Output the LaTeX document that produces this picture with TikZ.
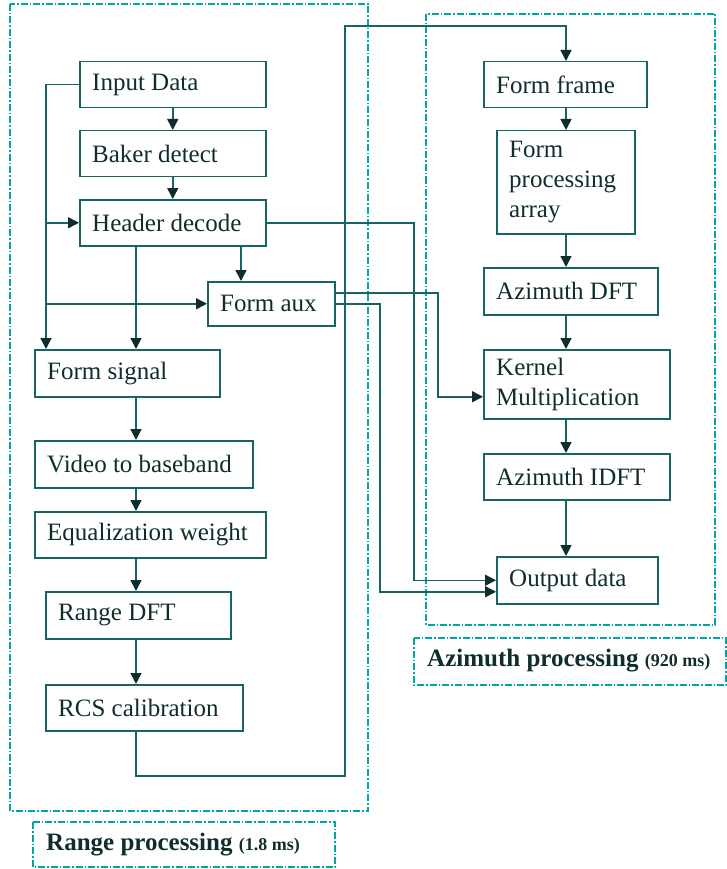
\documentclass[tikz,border=0pt]{standalone}
\usepackage{fontspec}
\setmainfont{Liberation Serif}
\usetikzlibrary{arrows.meta}
\definecolor{ln}{RGB}{22,100,100}
\definecolor{tx}{RGB}{15,45,45}
\definecolor{fr}{RGB}{0,165,165}
\tikzset{
  boxst/.style={draw=ln,line width=1.5pt,anchor=north west,inner sep=0pt},
  txt/.style={text=tx,font=\fontsize{25}{30}\selectfont,align=left,inner sep=0pt,anchor=west},
  conn/.style={draw=ln,line width=1.5pt},
  arr/.style={conn,-{Triangle[length=11pt,width=11pt,fill=tx,color=tx]}},
  frame/.style={draw=fr,line width=1.1pt,dash pattern=on 7pt off 2pt on 1.5pt off 2pt}
}
\newcommand\mybox[6]{%
  \node[boxst,minimum width=#4pt,minimum height=#5pt] (#1) at (#2,#3) {};
  \node[txt] (#1t) at ([xshift=13pt]#1.west) {#6};}
\begin{document}
\begin{tikzpicture}[x=1pt,y=-1pt]
\useasboundingbox (0,0) rectangle (727,869);
% frames
\draw[frame] (10,4) rectangle (368,811);
\draw[frame] (33,822) rectangle (335,867);
\draw[frame] (426,14) rectangle (715,625);
\draw[frame] (414,638) rectangle (726,685);
\node[txt,font=\bfseries\fontsize{25}{30}\selectfont] (rlab) at (46,845) {Range processing {\fontsize{18}{20}\selectfont (1.8 ms)}};
\node[txt,font=\bfseries\fontsize{25}{30}\selectfont] (alab) at (427,661) {Azimuth processing {\fontsize{18}{20}\selectfont (920 ms)}};
% range boxes
\mybox{in}{79}{61}{186}{46}{Input Data}
\mybox{bd}{79}{130}{186}{46}{Baker detect}
\mybox{hd}{79}{199}{186}{46}{Header decode}
\mybox{fa}{207}{281}{127}{44}{Form aux}
\mybox{fs}{34}{349}{185}{47}{Form signal}
\mybox{vb}{34}{440}{218}{47}{Video to baseband}
\mybox{eq}{34}{511}{231}{46}{Equalization weight}
\mybox{rd}{45}{591}{185}{47}{Range DFT}
\mybox{rc}{45}{684}{197}{46}{RCS calibration}
% azimuth boxes
\mybox{ff}{483}{61}{163}{46}{Form frame}
\mybox{fpa}{496}{130}{138}{103}{Form\\processing\\array}
\mybox{ad}{483}{267}{174}{47}{Azimuth DFT}
\mybox{km}{483}{349}{186}{69}{Kernel\\Multiplication}
\mybox{aid}{483}{453}{186}{46}{Azimuth IDFT}
\mybox{od}{496}{556}{161}{47}{Output data}
% coordinates
\coordinate (xL) at (46,0);
\coordinate (xM) at (136,0);
\coordinate (xF) at (241,0);
\coordinate (xH) at (414,0);
\coordinate (xK) at (438,0);
\coordinate (xO) at (380,0);
\coordinate (xA) at (566,0);
\coordinate (bot) at (345,776);
\coordinate (top) at (345,26);
% range connectors
\draw[arr] (in.south) -- (bd.north);
\draw[arr] (bd.south) -- (hd.north);
\draw[arr] (in.west) -| (fs.north -| xL);
\draw[arr] (hd.west -| xL) -- (hd.west);
\draw[arr] (fa.west -| xL) -- (fa.west);
\draw[arr] (hd.south -| xM) -- (fs.north -| xM);
\draw[arr] (hd.south -| xF) -- (fa.north -| xF);
\draw[arr] (fs.south -| xM) -- (vb.north -| xM);
\draw[arr] (vb.south -| xM) -- (eq.north -| xM);
\draw[arr] (eq.south -| xM) -- (rd.north -| xM);
\draw[arr] (rd.south -| xM) -- (rc.north -| xM);
\draw[arr] (rc.south -| xM) |- (bot) -- (top) -| (ff.north -| xA);
% cross connectors
\draw[arr] (hd.east) -| (od.west -| xH) -- (od.west);
\draw[arr] ([yshift=11pt]fa.east) -| ([yshift=-12.5pt]km.west -| xK) -- ([yshift=-12.5pt]km.west);
\draw[arr] (fa.east) -| ([yshift=-11.5pt]od.west -| xO) -- ([yshift=-11.5pt]od.west);
% azimuth connectors
\draw[arr] (ff.south -| xA) -- (fpa.north -| xA);
\draw[arr] (fpa.south -| xA) -- (ad.north -| xA);
\draw[arr] (ad.south -| xA) -- (km.north -| xA);
\draw[arr] (km.south -| xA) -- (aid.north -| xA);
\draw[arr] (aid.south -| xA) -- (od.north -| xA);
\end{tikzpicture}
\end{document}
